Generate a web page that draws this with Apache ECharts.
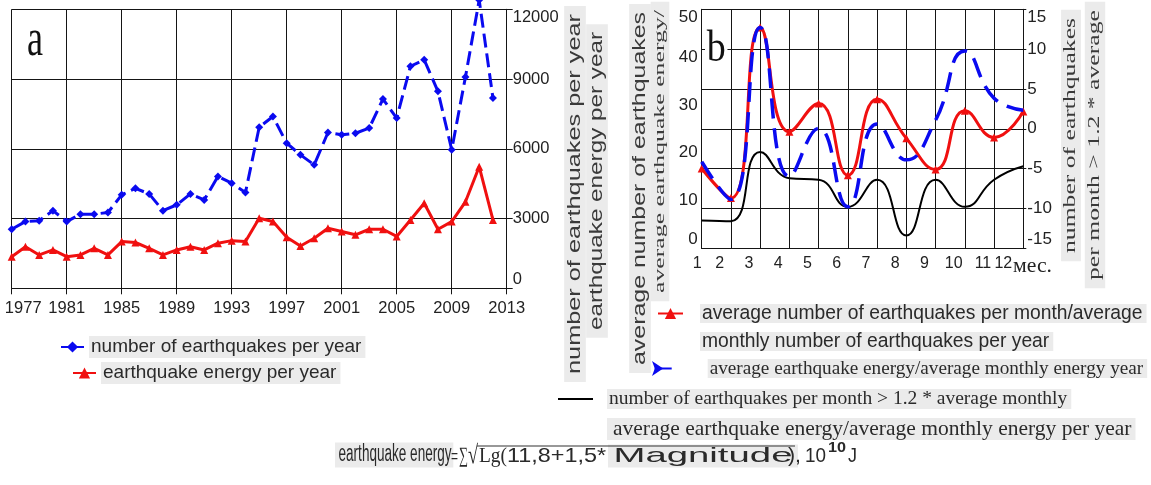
<!DOCTYPE html>
<html><head><meta charset="utf-8">
<script src="https://cdn.jsdelivr.net/npm/echarts@6/dist/echarts.min.js"></script>
<style>html,body{margin:0;padding:0;background:#fff}#c{width:1151px;height:485px}</style>
</head><body><div id="c"></div>
<script>
// ---------- data: panel a (yearly) ----------
const yearCats = ['1977','1978','1979','1980','1981','1982','1983','1984','1985','1986','1987','1988','1989','1990','1991','1992','1993','1994','1995','1996','1997','1998','1999','2000','2001','2002','2003','2004','2005','2006','2007','2008','2009','2010','2011','2012','2013'];
const quakesPerYear = [2540,2870,2910,3340,2870,3190,3190,3260,4020,4300,4060,3340,3590,4060,3800,4810,4520,4120,6930,7390,6240,5740,5310,6700,6600,6670,6890,8140,7320,9550,9830,8470,5960,9090,12400,8180];
const energyPerYear = [1360,1790,1435,1650,1360,1435,1720,1435,2010,1970,1720,1435,1650,1790,1650,1940,2050,2010,3010,2870,2200,1820,2150,2580,2440,2300,2540,2540,2230,2940,3660,2540,2870,3720,5230,2940];
const yearAxisTicks = [0, 3000, 6000, 9000, 12000];
// ---------- data: panel b (monthly) ----------
const monthCats = ['1','2','3','4','5','6','7','8','9','10','11','12'];
const avgNumberRatio = [16.7,10.5,46.2,24.4,30.3,15.3,31.2,23.0,16.5,28.8,23.2,28.6];
const avgEnergyRatio = [18.1,10.2,46.2,15.0,25.1,8.7,26.0,18.5,26.8,41.3,31.4,28.9];
const countAbove = [-11.5,-11.6,-2.9,-6.2,-6.4,-9.8,-6.4,-13.4,-6.4,-9.8,-6.4,-4.7];
const leftTicksB = [0, 10, 20, 30, 40, 50];
const rightTicksB = [-15, -10, -5, 0, 5, 10, 15];

// ---------- names ----------
const N_A1 = 'number of earthquakes per year';
const N_A2 = 'earthquake energy per year';
const N_B1 = 'average number of earthquakes per month/average monthly number of earthquakes per year';
const N_B2 = 'average earthquake energy/average monthly energy year';
const N_B3 = 'number of earthquakes per month > 1.2 * average monthly average earthquake energy/average monthly energy per year';

// ---------- fonts ----------
const SANS = '"Liberation Sans", Arial, sans-serif';
const SERIF = '"Liberation Serif", "Times New Roman", serif';
const mctx = document.createElement('canvas').getContext('2d');
function measure(str, size, fam, weight) {
  mctx.font = (weight ? weight + ' ' : '') + size + 'px ' + fam;
  return mctx.measureText(str).width;
}
function hasFont(name) {
  const t = 'abcdefghijklmnopqrstuvwxyz0123456789';
  const a = measure(t, 40, 'monospace'), b = measure(t, 40, '"' + name + '", monospace');
  const c = measure(t, 40, 'serif'), d = measure(t, 40, '"' + name + '", serif');
  return a !== b || c !== d;
}
const narrowOK = hasFont('Liberation Sans Narrow');
const NARROW = narrowOK ? '"Liberation Sans Narrow", "Liberation Sans", sans-serif' : SANS;
const FS = narrowOK ? {year: 19, axA: 19, axB: 21, xB: 20} : {year: 16.5, axA: 16.5, axB: 17, xB: 16};

const BLUE = '#0a0af0', RED = '#f01010', BLACK = '#000', GRID = '#151515', TXT = '#222', BG = '#ebebeb';

// ---------- free text helpers ----------
function fitH(str, fam, size, x0, x1, yc, o) {
  o = o || {};
  const w = measure(str, size, fam, o.bold ? 'bold' : '');
  const st = {text: str, fontFamily: fam, fontSize: size, fontWeight: o.bold ? 'bold' : 'normal',
    fill: o.fill || '#2a2a2a', align: 'left', verticalAlign: 'middle', textAlign: 'left', textVerticalAlign: 'middle'};
  if (o.bg) { st.backgroundColor = o.bg; st.padding = o.pad || [1, 2]; }
  return {type: 'text', x: x0, y: yc, scaleX: (x1 - x0) / w, scaleY: o.sy || 1, z: 50, silent: true, style: st};
}
function fitV(str, fam, size, xc, y0, y1, sy, o) {
  o = o || {};
  const w = measure(str, size, fam);
  const st = {text: str, fontFamily: fam, fontSize: size, fill: o.fill || '#3a3a3a',
    align: 'center', verticalAlign: 'middle', textAlign: 'center', textVerticalAlign: 'middle',
    backgroundColor: BG, padding: o.pad || [3, 8]};
  return {type: 'text', x: xc, y: (y0 + y1) / 2, rotation: Math.PI / 2, scaleX: (y1 - y0) / w, scaleY: sy, z: 50, silent: true, style: st};
}

const graphics = [
  // panel letters
  fitH('a', SERIF, 52, 27, 43, 41, {fill: '#111'}),
  fitH('b', SERIF, 44, 705, 724, 49, {fill: '#111', bg: '#fff', pad: [0, 2]}),
  // month unit on the b x-axis
  fitH('мес.', SERIF, 22, 1013, 1052, 266, {fill: TXT}),
  // rotated axis titles
  fitV('number of earthquakes per year', SANS, 25, 575, 14, 374, 0.7),
  fitV('earthquake energy per year', SANS, 25, 597, 32, 330, 0.7),
  fitV('average number of earthquakes', SANS, 25, 640, 12, 365, 0.7),
  fitV('average earthquake energy/', SERIF, 25, 660, 10, 293, 0.6),
  fitV('number of earthquakes', SERIF, 25, 1071, 18, 253, 0.64),
  fitV('per month > 1.2 * average', SERIF, 25, 1095, 10, 280, 0.66),
  // formula
  fitH('earthquake energy', SANS, 23, 335, 448, 455, {bg: BG, pad: [1, 3, 1, 6]}),
  fitH('=', SANS, 18, 451, 458, 457),
  fitH('\u2211', SERIF, 22, 459, 468, 456),
  fitH('\u221A', SERIF, 26, 468, 478, 456),
  fitH('Lg(', SERIF, 22, 479, 507, 456),
  fitH('11,8+1,5*', SANS, 21, 507, 606, 456),
  fitH('Magnitude', SANS, 21, 608, 787, 456, {bg: BG, pad: [1, 3]}),
  fitH('),', SANS, 21, 788, 801, 456),
  fitH('10', SANS, 21, 805, 826, 456),
  fitH('10', SANS, 14, 828, 846, 448, {bold: true}),
  fitH('J', SANS, 21, 848, 857, 456),
  {type: 'line', silent: true, z: 50, shape: {x1: 477, y1: 446, x2: 795, y2: 446}, style: {stroke: '#333', lineWidth: 1.2}}
];

const legendBase = {orient: 'horizontal', padding: 0, selectedMode: false, itemHeight: 14,
  lineStyle: {type: 'solid'}};

// plain line icon (35 x 14 box, 2px bar in the middle)
const LINE_ICON = 'path://M0,0L0.01,0L0.01,0.01Z M0,6L35,6L35,8L0,8Z M0,14L0.01,14L0.01,13.99Z';

// trailing spaces shift the centred month labels left, as in the source figure
const monthPad = v => v === '1' ? '  ' : (v === '12' ? '         ' : '     ');

const option = {
  animation: false,
  backgroundColor: '#fff',
  textStyle: {fontFamily: SANS},
  grid: [
    {left: 11.7, top: 9.3, width: 495, height: 279, containLabel: false, outerBoundsMode: 'none'},
    {left: 701.7, top: 9.3, width: 321.6, height: 239, containLabel: false, outerBoundsMode: 'none'}
  ],
  xAxis: [
    {type: 'category', gridIndex: 0, data: yearCats, boundaryGap: false,
     axisLine: {show: true, lineStyle: {color: GRID, width: 1}},
     axisTick: {show: true, interval: 3, length: 6, inside: false, lineStyle: {color: GRID}},
     axisLabel: {interval: 3, margin: 12, color: TXT, fontFamily: NARROW, fontSize: FS.year,
       formatter: (v, i) => i === 0 ? '{f|' + v + '}' : v,
       rich: {f: {padding: [0, 0, 0, 23], fontFamily: NARROW, fontSize: FS.year, color: TXT}}},
     splitLine: {show: true, interval: 3, lineStyle: {color: GRID, width: 1}}},
    {type: 'category', gridIndex: 1, data: monthCats, boundaryGap: false,
     axisLine: {show: true, lineStyle: {color: GRID, width: 1}},
     axisTick: {show: false},
     axisLabel: {interval: 0, margin: 7, color: TXT, fontFamily: NARROW, fontSize: FS.xB,
       formatter: v => v + monthPad(v)},
     splitLine: {show: true, interval: 0, lineStyle: {color: GRID, width: 1}}}
  ],
  yAxis: [
    {type: 'value', gridIndex: 0, position: 'right', min: yearAxisTicks[0], max: yearAxisTicks[4], interval: 3000,
     axisLine: {show: true, lineStyle: {color: GRID, width: 1}},
     axisTick: {show: true, length: 6, inside: false, lineStyle: {color: GRID}},
     axisLabel: {margin: 6, color: TXT, fontFamily: NARROW, fontSize: FS.axA, formatter: v => String(v),
       verticalAlignMaxLabel: 'top', verticalAlignMinLabel: 'bottom'},
     splitLine: {show: true, lineStyle: {color: GRID, width: 1}}},
    {type: 'value', gridIndex: 1, position: 'left', min: leftTicksB[0], max: leftTicksB[5], interval: 10,
     axisLine: {show: true, lineStyle: {color: GRID, width: 1}},
     axisTick: {show: false},
     axisLabel: {margin: 4, color: TXT, fontFamily: NARROW, fontSize: FS.axB, formatter: v => String(v),
       verticalAlignMaxLabel: 'top', verticalAlignMinLabel: 'bottom'},
     splitLine: {show: false}},
    {type: 'value', gridIndex: 1, position: 'right', min: rightTicksB[0], max: rightTicksB[6], interval: 5,
     axisLine: {show: true, lineStyle: {color: GRID, width: 1}},
     axisTick: {show: true, length: 3, inside: false, lineStyle: {color: GRID}},
     axisLabel: {margin: 4, color: TXT, fontFamily: NARROW, fontSize: FS.axB, formatter: v => String(v),
       verticalAlignMaxLabel: 'top', verticalAlignMinLabel: 'bottom'},
     splitLine: {show: true, lineStyle: {color: GRID, width: 1}}}
  ],
  legend: [
    Object.assign({}, legendBase, {left: 60, top: 336, itemWidth: 23, data: [N_A1],
      textStyle: {fontFamily: SANS, fontSize: 19, lineHeight: 22, color: '#2a2a2a', backgroundColor: BG, padding: [0, 4, 0, 2]}}),
    Object.assign({}, legendBase, {left: 72, top: 362, itemWidth: 23, data: [N_A2],
      textStyle: {fontFamily: SANS, fontSize: 19, lineHeight: 22, color: '#2a2a2a', backgroundColor: BG, padding: [0, 4, 0, 2]}}),
    Object.assign({}, legendBase, {left: 657, top: 304, itemWidth: 25, data: [N_B1],
      formatter: () => '{t|average number of earthquakes per month/average}\n{t|monthly number of earthquakes per year}',
      textStyle: {padding: [28, 0, 0, 12],
        rich: {t: {fontFamily: SANS, fontSize: 19.3, lineHeight: 28, color: '#2a2a2a', backgroundColor: BG, padding: [0, 4, 0, 2]}}}}),
    Object.assign({}, legendBase, {left: 652, top: 359, itemWidth: 17, data: [N_B2],
      formatter: () => '{t|average earthquake energy/average monthly energy year}',
      textStyle: {padding: [0, 0, 0, 31],
        rich: {t: {fontFamily: SERIF, fontSize: 19.2, lineHeight: 24, color: '#2a2a2a', backgroundColor: BG, padding: [0, 4, 0, 2]}}}}),
    Object.assign({}, legendBase, {left: 558, top: 389, itemWidth: 35, data: [{name: N_B3, icon: LINE_ICON}],
      formatter: () => '{a|number of earthquakes per month > 1.2 * average monthly}\n{b|average earthquake energy/average monthly energy per year}',
      textStyle: {padding: [30, 0, 0, 9],
        rich: {
          a: {fontFamily: SERIF, fontSize: 19.5, lineHeight: 30, color: '#2a2a2a', backgroundColor: BG, padding: [0, 4, 0, 2]},
          b: {fontFamily: SERIF, fontSize: 21.5, lineHeight: 30, color: '#2a2a2a', backgroundColor: BG, padding: [0, 4, 0, 6]}}}})
  ],
  series: [
    {name: N_A1, type: 'line', xAxisIndex: 0, yAxisIndex: 0, data: quakesPerYear, clip: false,
     symbol: 'diamond', symbolSize: 8, lineStyle: {color: BLUE, width: 3, type: [14, 6]},
     itemStyle: {color: BLUE}, emphasis: {disabled: true}, z: 4},
    {name: N_A2, type: 'line', xAxisIndex: 0, yAxisIndex: 0, data: energyPerYear, clip: false,
     symbol: 'triangle', symbolSize: 8, lineStyle: {color: RED, width: 3},
     itemStyle: {color: RED}, emphasis: {disabled: true}, z: 3},
    {name: N_B1, type: 'line', xAxisIndex: 1, yAxisIndex: 1, data: avgNumberRatio, smooth: 0.5,
     symbol: 'triangle', symbolSize: 8, lineStyle: {color: RED, width: 3},
     itemStyle: {color: RED}, emphasis: {disabled: true}, z: 3},
    {name: N_B2, type: 'line', xAxisIndex: 1, yAxisIndex: 1, data: avgEnergyRatio, smooth: 0.5,
     symbol: 'arrow', symbolRotate: -90, symbolSize: 9, showSymbol: false,
     lineStyle: {color: BLUE, width: 3.5, type: [20, 10]},
     itemStyle: {color: BLUE}, emphasis: {disabled: true}, z: 4},
    {name: N_B3, type: 'line', xAxisIndex: 1, yAxisIndex: 2, data: countAbove, smooth: 0.5,
     symbol: 'none', lineStyle: {color: BLACK, width: 2},
     itemStyle: {color: BLACK}, emphasis: {disabled: true}, z: 2}
  ],
  graphic: {elements: graphics}
};

const chart = echarts.init(document.getElementById('c'), null, {renderer: 'canvas', width: 1151, height: 485});
chart.setOption(option);
</script>
</body></html>
